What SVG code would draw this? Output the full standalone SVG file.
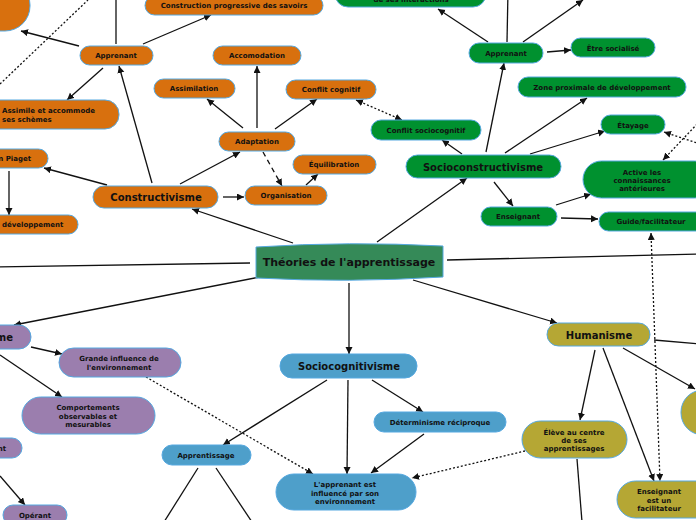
<svg xmlns="http://www.w3.org/2000/svg" width="696" height="520" viewBox="0 0 696 520">
<defs>
<marker id="ah" markerUnits="userSpaceOnUse" markerWidth="8" markerHeight="8" refX="7" refY="3.5" orient="auto-start-reverse"><path d="M0,0 L7,3.5 L0,7 Z" fill="#111"/></marker>
<style>
.n{stroke:#55a8e0;stroke-width:1}
.or{fill:#d8700e}.gr{fill:#00912f}.pu{fill:#9b7eae}.bl{fill:#4e9fca}.ol{fill:#b5a734}
text{font-family:"DejaVu Sans","Verdana",sans-serif;font-weight:bold;fill:#111}
.s{font-size:7px;text-anchor:middle}
.sl{font-size:7px}
.m{font-size:10px;text-anchor:middle}
.c line,.c path{stroke:#111;stroke-width:1.3;fill:none}
.a{marker-end:url(#ah)}
.dot{stroke-dasharray:2,2}
.dash{stroke-dasharray:5,4}
</style>
</defs>
<rect width="696" height="520" fill="#fff"/>
<g class="c" id="connectors">
<line x1="116" y1="44" x2="116" y2="-10"/>
<line class="a" x1="79" y1="46" x2="21" y2="31"/>
<line class="a" x1="143" y1="44" x2="211" y2="15"/>
<line class="a" x1="103" y1="68" x2="67" y2="100"/>
<line class="a" x1="152" y1="183" x2="119" y2="66"/>
<line class="a" x1="257" y1="128" x2="257" y2="66"/>
<line class="a" x1="243" y1="128" x2="207" y2="99"/>
<line class="a" x1="275" y1="129" x2="317" y2="99"/>
<line class="a" x1="180" y1="184" x2="240" y2="152"/>
<line class="a" x1="107" y1="185" x2="44" y2="168"/>
<line class="a" x1="9" y1="171" x2="9" y2="215"/>
<line class="a" x1="223" y1="197" x2="244" y2="197"/>
<line class="a dash" x1="263" y1="152" x2="282" y2="186"/>
<line class="a" x1="306" y1="185" x2="318" y2="174"/>
<line class="a" x1="293" y1="243" x2="192" y2="209"/>
<line class="dot" x1="0" y1="84" x2="88" y2="0"/>
<line class="a dot" style="marker-start:url(#ah)" x1="356" y1="100" x2="402" y2="120"/>
<line class="a" x1="377" y1="242" x2="467" y2="178"/>
<line class="a" x1="462" y1="154" x2="442" y2="140"/>
<line class="a" x1="486" y1="152" x2="504" y2="63"/>
<line class="a" x1="505" y1="153" x2="587" y2="98"/>
<line class="a" x1="530" y1="154" x2="605" y2="131"/>
<line class="a" x1="494" y1="182" x2="513" y2="206"/>
<line class="a" x1="556" y1="205" x2="591" y2="194"/>
<line class="a" x1="561" y1="218" x2="598" y2="219"/>
<line class="a" x1="488" y1="42" x2="438" y2="9"/>
<line x1="507" y1="42" x2="508" y2="-10"/>
<line class="a" x1="523" y1="42" x2="583" y2="0"/>
<line class="a" x1="547" y1="52" x2="571" y2="50"/>
<line class="a dot" x1="700" y1="121" x2="663" y2="160"/>
<line class="a dot" x1="700" y1="144" x2="664" y2="132"/>
<line class="a dot" style="marker-start:url(#ah)" x1="651" y1="233" x2="660" y2="481"/>
<line x1="250" y1="263" x2="-5" y2="267"/>
<line x1="447" y1="260" x2="700" y2="254"/>
<line class="a" x1="260" y1="277" x2="14" y2="325"/>
<line class="a" x1="349" y1="283" x2="349" y2="354"/>
<line class="a" x1="413" y1="280" x2="557" y2="323"/>
<line class="a" x1="31" y1="347" x2="62" y2="354"/>
<line class="a" x1="0" y1="355" x2="62" y2="397"/>
<line class="a dot" x1="146" y1="377" x2="313" y2="474"/>
<line class="a" x1="0" y1="476" x2="25" y2="505"/>
<line class="a" x1="327" y1="380" x2="223" y2="445"/>
<line class="a" x1="348" y1="380" x2="347" y2="474"/>
<line class="a" x1="372" y1="380" x2="423" y2="412"/>
<line class="a" x1="424" y1="434" x2="371" y2="473"/>
<line class="a dot" x1="525" y1="451" x2="412" y2="478"/>
<line x1="198" y1="468" x2="164" y2="522"/>
<line x1="216" y1="468" x2="252" y2="522"/>
<line class="a" x1="595" y1="350" x2="580" y2="420"/>
<line class="a" x1="603" y1="348" x2="654" y2="481"/>
<line class="a" x1="623" y1="348" x2="695" y2="389"/>
<line x1="654" y1="340" x2="700" y2="344"/>
<line x1="577" y1="459" x2="582" y2="522"/>
</g>

<g id="n-topleft"><rect class="n or" x="-80" y="-20" width="110" height="51" rx="25"/></g>
<g id="n-construction"><rect class="n or" x="145" y="-4" width="178" height="19" rx="9.5"/><text class="s" x="234" y="8">Construction progressive des savoirs</text></g>
<g id="n-apprenant-o"><rect class="n or" x="80" y="46" width="73" height="19" rx="9.5"/><text class="s" x="116" y="58">Apprenant</text></g>
<g id="n-accomodation"><rect class="n or" x="213" y="46" width="88" height="19" rx="9.5"/><text class="s" x="257" y="58">Accomodation</text></g>
<g id="n-assimilation"><rect class="n or" x="154" y="79" width="81" height="19" rx="9.5"/><text class="s" x="194" y="91">Assimilation</text></g>
<g id="n-conflit"><rect class="n or" x="286" y="80" width="90" height="19" rx="9.5"/><text class="s" x="331" y="92">Conflit cognitif</text></g>
<g id="n-assimile"><rect class="n or" x="-40" y="100" width="159" height="29" rx="14"/><text class="sl" x="2" y="113">Assimile et accommode</text><text class="sl" x="2" y="122">ses schèmes</text></g>
<g id="n-adaptation"><rect class="n or" x="219" y="132" width="76" height="19" rx="9.5"/><text class="s" x="257" y="144">Adaptation</text></g>
<g id="n-piaget"><rect class="n or" x="-40" y="149" width="88" height="19" rx="9.5"/><text class="sl" x="31" y="161" text-anchor="end">n Piaget</text></g>
<g id="n-constructivisme"><rect class="n or" x="93" y="186" width="125" height="22" rx="11"/><text class="m" x="156" y="200.5">Constructivisme</text></g>
<g id="n-organisation"><rect class="n or" x="245" y="186" width="82" height="19" rx="9.5"/><text class="s" x="286" y="198">Organisation</text></g>
<g id="n-equilibration"><rect class="n or" x="293" y="155" width="83" height="19" rx="9.5"/><text class="s" x="334" y="167">Équilibration</text></g>
<g id="n-developpement"><rect class="n or" x="-40" y="215" width="118" height="19" rx="9.5"/><text class="sl" x="2" y="227">développement</text></g>

<g id="n-topgreen"><rect class="n gr" x="335" y="-20" width="151" height="27" rx="13"/><text class="s" x="411" y="1.5">de ses interactions</text></g>
<g id="n-apprenant-g"><rect class="n gr" x="469" y="43" width="74" height="20" rx="10"/><text class="s" x="506" y="55.5">Apprenant</text></g>
<g id="n-socialise"><rect class="n gr" x="571" y="38" width="84" height="19" rx="9.5"/><text class="s" x="613" y="50.5">Être socialisé</text></g>
<g id="n-zone"><rect class="n gr" x="518" y="77" width="168" height="20" rx="10"/><text class="s" x="602" y="89.5">Zone proximale de développement</text></g>
<g id="n-etayage"><rect class="n gr" x="601" y="115" width="64" height="19" rx="9.5"/><text class="s" x="633" y="127.5">Étayage</text></g>
<g id="n-conflit-socio"><rect class="n gr" x="371" y="120" width="110" height="20" rx="10"/><text class="s" x="426" y="132.5">Conflit sociocognitif</text></g>
<g id="n-socioconstructivisme"><rect class="n gr" x="406" y="155" width="155" height="23" rx="11.5"/><text class="m" x="483" y="170.5">Socioconstructivisme</text></g>
<g id="n-active"><rect class="n gr" x="583" y="161" width="130" height="37" rx="18.5"/><text class="s" x="642" y="174.5">Active les</text><text class="s" x="642" y="182.5">connaissances</text><text class="s" x="642" y="190.5">antérieures</text></g>
<g id="n-enseignant-g"><rect class="n gr" x="481" y="207" width="76" height="19" rx="9.5"/><text class="s" x="518" y="219">Enseignant</text></g>
<g id="n-guide"><rect class="n gr" x="599" y="212" width="110" height="19" rx="9.5"/><text class="s" x="651" y="224">Guide/facilitateur</text></g>

<g id="n-central"><path d="M256,247 Q349,241 443,246 L443,277 Q349,283 256,278 Z" fill="#358a58" stroke="#55a8e0" stroke-width="1"/><text x="349" y="266" font-size="11" text-anchor="middle">Théories de l'apprentissage</text></g>

<g id="n-behaviorisme"><rect class="n pu" x="-60" y="325" width="91" height="24" rx="12"/><text x="13" y="340.5" font-size="10" text-anchor="end">me</text></g>
<g id="n-grande"><rect class="n pu" x="59" y="348" width="122" height="29" rx="14.5"/><text class="s" x="119" y="360.5">Grande influence de</text><text class="s" x="119" y="369.5">l'environnement</text></g>
<g id="n-comportements"><rect class="n pu" x="22" y="397" width="133" height="37" rx="18.5"/><text class="s" x="88" y="409.5">Comportements</text><text class="s" x="88" y="418.5">observables et</text><text class="s" x="88" y="426.5">mesurables</text></g>
<g id="n-nt"><rect class="n pu" x="-60" y="438" width="82" height="20" rx="10"/><text class="sl" x="6" y="450.5" text-anchor="end">nt</text></g>
<g id="n-operant"><rect class="n pu" x="3" y="505" width="64" height="20" rx="10"/><text class="s" x="35" y="518">Opérant</text></g>

<g id="n-sociocognitivisme"><rect class="n bl" x="280" y="354" width="137" height="24" rx="12"/><text class="m" x="349" y="369.5">Sociocognitivisme</text></g>
<g id="n-determinisme"><rect class="n bl" x="374" y="412" width="132" height="20" rx="10"/><text class="s" x="440" y="424.5">Déterminisme réciproque</text></g>
<g id="n-apprentissage"><rect class="n bl" x="162" y="445" width="89" height="20" rx="10"/><text class="s" x="206" y="457.5">Apprentissage</text></g>
<g id="n-apprenant-influence"><rect class="n bl" x="276" y="474" width="140" height="36" rx="18"/><text class="s" x="345" y="486.5">L'apprenant est</text><text class="s" x="345" y="495.5">influencé par son</text><text class="s" x="345" y="503.5">environnement</text></g>

<g id="n-humanisme"><rect class="n ol" x="547" y="323" width="103" height="23" rx="11.5"/><text class="m" x="599" y="338.5">Humanisme</text></g>
<g id="n-eleve"><rect class="n ol" x="522" y="421" width="105" height="37" rx="18.5"/><text class="s" x="574" y="434.5">Élève au centre</text><text class="s" x="574" y="442.5">de ses</text><text class="s" x="574" y="450.5">apprentissages</text></g>
<g id="n-enseignant-o"><rect class="n ol" x="617" y="481" width="100" height="37" rx="18.5"/><text class="s" x="659" y="493.5">Enseignant</text><text class="s" x="659" y="502.5">est un</text><text class="s" x="659" y="510.5">facilitateur</text></g>
<g id="n-right-olive"><rect class="n ol" x="681" y="390" width="80" height="45" rx="22"/></g>
</svg>
